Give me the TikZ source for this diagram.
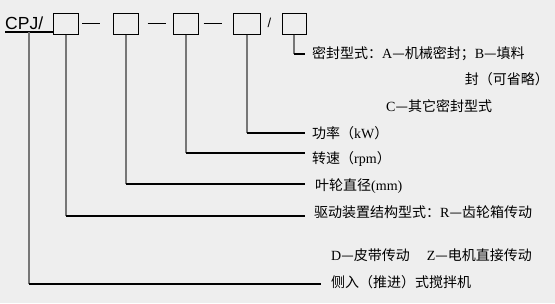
\documentclass[tikz,border=0pt]{standalone}
\usepackage{fontspec}
\setmainfont{Noto Sans CJK SC}
\newfontfamily\lat{Liberation Serif}
\newfontfamily\arialf{Liberation Sans}
\definecolor{bg}{RGB}{238,238,238}
\definecolor{vgray}{RGB}{118,118,118}
\begin{document}
\begin{tikzpicture}[x=1pt,y=-1pt,
  codebox/.style={draw=black,line width=1.1pt,minimum width=25pt,minimum height=21pt,inner sep=0pt,anchor=north west},
  vline/.style={draw=vgray,line width=2pt},
  hline/.style={draw=black,line width=1.2pt},
  sepdash/.style={draw=black,line width=1pt},
  desc/.style={font=\fontsize{14}{16}\selectfont,inner sep=0pt,anchor=base west},
]
\fill[bg] (0,0) rectangle (555,303);
\useasboundingbox (0,0) rectangle (555,303);

% code line
\node[font=\arialf\fontsize{17.5}{18}\selectfont,inner sep=0pt,anchor=base west] (cpj) at (5,29.5) {CPJ/};
\node[codebox] (b1) at (53,12.5) {};
\node[codebox] (b2) at (113,12.5) {};
\node[codebox] (b3) at (173,12.5) {};
\node[codebox,minimum width=27pt] (b4) at (233,12.5) {};
\node[codebox,minimum width=24pt] (b5) at (281.5,12.5) {};
\node[font=\arialf\fontsize{13}{14}\selectfont,inner sep=0pt] (sl) at (269.5,23) {/};

\draw[hline] ([yshift=-2.5pt]cpj.base west) -- ([yshift=-2.5pt]cpj.base west -| b1.west);
\draw[sepdash] ([xshift=3pt]b1.east) -- ++(18,0);
\draw[sepdash] ([xshift=8.5pt]b2.east) -- ++(18,0);
\draw[sepdash] ([xshift=4.5pt]b3.east) -- ++(18,0);

% descriptions
\node[desc] (t5) at (312,58) {密封型式：{\lat A}—机械密封；{\lat B}—填料};
\node[desc,anchor=base east] (t5b) at (549,84) {封（可省略）};
\node[desc] (t5c) at (386,111) {{\lat C}—其它密封型式};
\node[desc] (t4) at (312,138) {功率（{\lat kW}）};
\node[desc] (t3) at (312,163) {转速（{\lat rpm}）};
\node[desc] (t2) at (315,190) {叶轮直径{\lat(mm)}};
\node[desc] (t1) at (314,217) {驱动装置结构型式：{\lat R}—齿轮箱传动};
\node[desc] (t1b) at (331,260) {{\lat D}—皮带传动\hspace{17pt}{\lat Z}—电机直接传动};
\node[desc] (t0) at (331,287) {侧入（推进）式搅拌机};

% line ends
\coordinate (e5) at (305,54);
\coordinate (e4) at (305,133);
\coordinate (e3) at (305,153);
\coordinate (e2) at (305,184);
\coordinate (e1) at (305,216);
\coordinate (e0) at (321,284);
\coordinate (c0) at (29,32);

% connectors
\draw[vline] (b5.south) -- (b5.south |- e5);
\draw[hline] (b5.south |- e5) -- (e5);
\draw[vline] (b4.south) -- (b4.south |- e4);
\draw[hline] (b4.south |- e4) -- (e4);
\draw[vline] (b3.south) -- (b3.south |- e3);
\draw[hline] (b3.south |- e3) -- (e3);
\draw[vline] (b2.south) -- (b2.south |- e2);
\draw[hline] (b2.south |- e2) -- (e2);
\draw[vline] (b1.south) -- (b1.south |- e1);
\draw[hline] (b1.south |- e1) -- (e1);
\draw[vline] (c0) -- (c0 |- e0);
\draw[hline] (c0 |- e0) -- (e0);
\end{tikzpicture}
\end{document}
